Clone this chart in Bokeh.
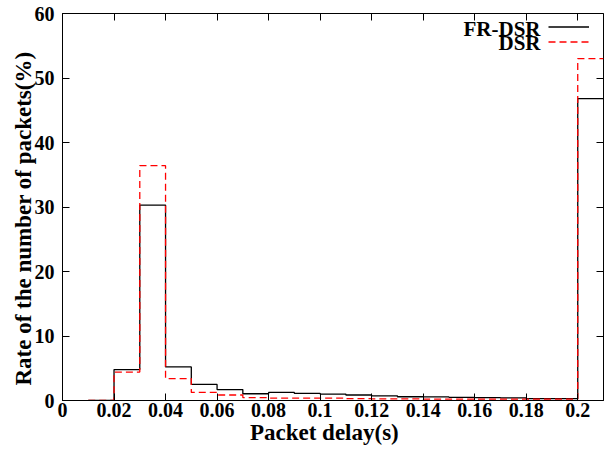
from bokeh.plotting import figure
from bokeh.models import FixedTicker, LinearAxis, Legend, LegendItem, Label, Range1d
from bokeh.core.properties import value
from bokeh.embed import file_html
from bokeh.resources import INLINE

# ---- data ----
bin_start = [0.01, 0.02, 0.03, 0.04, 0.05, 0.06, 0.07, 0.08, 0.09, 0.10,
             0.11, 0.12, 0.13, 0.14, 0.15, 0.16, 0.17, 0.18, 0.19, 0.20]
bin_width = 0.01
fr_dsr = [0.0, 4.8, 30.3, 5.2, 2.5, 1.7, 1.05, 1.25, 1.1, 1.0,
          0.85, 0.72, 0.58, 0.55, 0.5, 0.45, 0.4, 0.28, 0.28, 46.8]
dsr = [0.0, 4.4, 36.4, 3.4, 1.25, 0.85, 0.46, 0.38, 0.38, 0.38,
       0.28, 0.25, 0.25, 0.22, 0.22, 0.2, 0.2, 0.2, 0.2, 53.0]
series_names = ["FR-DSR", "DSR"]
x_ticks = [0, 0.02, 0.04, 0.06, 0.08, 0.1, 0.12, 0.14, 0.16, 0.18, 0.2]
x_tick_labels = ["0", "0.02", "0.04", "0.06", "0.08", "0.1", "0.12", "0.14", "0.16", "0.18", "0.2"]
y_ticks = [0, 10, 20, 30, 40, 50, 60]
y_tick_labels = ["0", "10", "20", "30", "40", "50", "60"]
x_label = "Packet delay(s)"
y_label = "Rate of the number of packets(%)"

FONT = "Liberation Serif"
NBSP = "\u00a0"

p = figure(width=607, height=450, output_backend="svg", toolbar_location=None,
           x_range=Range1d(0, 0.21), y_range=Range1d(0, 60),
           min_border_left=62, min_border_right=4, min_border_top=13, min_border_bottom=50)
p.xgrid.visible = False
p.ygrid.visible = False
p.outline_line_color = "black"
p.outline_line_width = 1
p.background_fill_color = "white"
p.border_fill_color = "white"

# step edges
edges = bin_start + [bin_start[-1] + bin_width]
r1 = p.step(edges, fr_dsr + [fr_dsr[-1]], mode="after", line_color="black", line_width=1.3)
r2 = p.step(edges, dsr + [dsr[-1]], mode="after", line_color="red", line_width=1.3, line_dash="7 4")

def style_axis(ax, ticks, labels, show_labels=True):
    ax.ticker = FixedTicker(ticks=ticks)
    ax.major_label_overrides = dict(zip(ticks, labels))
    ax.major_tick_in = 7
    ax.major_tick_out = 0
    ax.minor_tick_in = 0
    ax.minor_tick_out = 0
    ax.major_tick_line_color = "black"
    ax.axis_line_color = "black"
    ax.major_label_text_font = FONT
    ax.major_label_text_font_style = "bold"
    ax.major_label_text_font_size = "20px" if show_labels else "1px"
    ax.major_label_text_color = "black"
    if not show_labels:
        ax.major_label_text_alpha = 0
    ax.axis_label_text_font = FONT
    ax.axis_label_text_font_style = "bold"
    ax.axis_label_text_font_size = "23px"
    ax.axis_label_text_color = "black"

style_axis(p.xaxis[0], x_ticks, x_tick_labels)
style_axis(p.yaxis[0], y_ticks, y_tick_labels)
p.xaxis[0].axis_label = x_label + NBSP * 3
p.yaxis[0].axis_label = y_label + NBSP * 4
p.xaxis[0].major_label_standoff = 2
p.yaxis[0].major_label_standoff = 8
p.xaxis[0].axis_label_standoff = 0
p.yaxis[0].axis_label_standoff = -4

top_ax = LinearAxis()
right_ax = LinearAxis()
style_axis(top_ax, x_ticks, x_tick_labels, show_labels=False)
style_axis(right_ax, y_ticks, y_tick_labels, show_labels=False)
for ax in (top_ax, right_ax):
    ax.major_label_standoff = 0
    ax.axis_line_color = None
p.add_layout(top_ax, "above")
p.add_layout(right_ax, "right")

# legend (samples only, text drawn to the left as in gnuplot)
legend = Legend(items=[LegendItem(label=value(""), renderers=[r1]),
                       LegendItem(label=value(""), renderers=[r2])],
                location=(486, 351), glyph_width=41, glyph_height=15, label_height=15,
                label_width=0, label_standoff=0, spacing=0, padding=0, margin=0,
                border_line_color=None, background_fill_alpha=0, label_text_font_size="1px")
p.add_layout(legend, "center")

for i, name in enumerate(series_names):
    lab = Label(x=478, y=372 - i * 14, x_units="screen", y_units="screen", text=name,
                text_align="right", text_baseline="middle", text_font=FONT,
                text_font_style="bold", text_font_size="21px", text_color="black")
    p.add_layout(lab)

open("out.html", "w").write(file_html(p, INLINE))
